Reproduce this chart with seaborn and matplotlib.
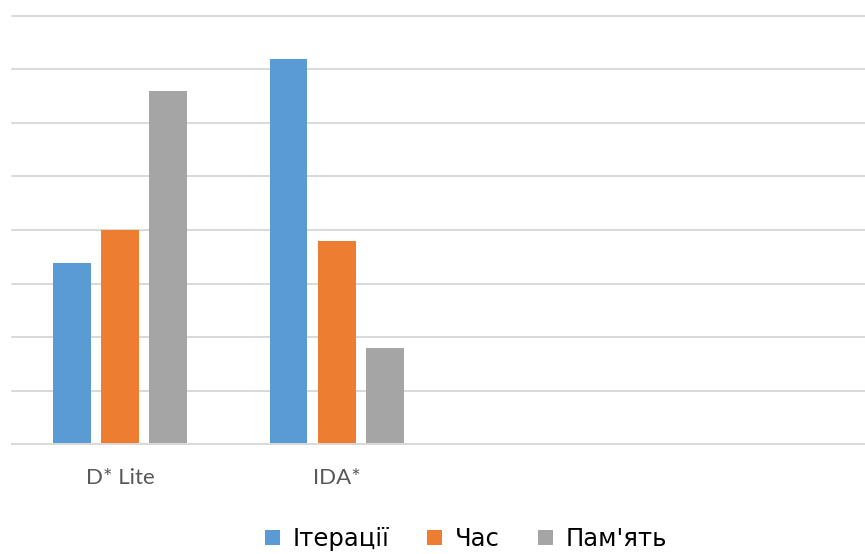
import matplotlib
matplotlib.use("Agg")
import matplotlib.pyplot as plt
import seaborn as sns
import pandas as pd
from matplotlib.lines import Line2D

categories = ["D* Lite", "IDA*"]
series = ["Ітерації", "Час", "Пам'ять"]
iterations = [3.38, 7.2]
time_vals = [4.0, 3.8]
memory = [6.6, 1.8]
colors = ["#5B9BD5", "#ED7D31", "#A5A5A5"]

rows = []
for s, vals in zip(series, [iterations, time_vals, memory]):
    for c, v in zip(categories, vals):
        rows.append({"cat": c, "series": s, "value": v})
df = pd.DataFrame(rows)

sns.set_theme(style="white")
plt.rcParams["font.family"] = ["DejaVu Sans"]

W, H = 865, 554
fig = plt.figure(figsize=(W / 100, H / 100), dpi=100)
left_px, base_px, top_px = 11.7, 444.3, 15.7
ax = fig.add_axes([left_px / W, (H - base_px) / H, 1 - left_px / W, (base_px - top_px) / H])

sns.barplot(data=df, x="cat", y="value", hue="series", palette=colors,
            order=categories, hue_order=series, width=0.667, gap=0.22,
            saturation=1, linewidth=0, legend=False, ax=ax)

cat_px = 216.7
ax.set_xlim(-0.5, -0.5 + (W - left_px) / cat_px)
ax.set_ylim(0, 8)
ax.set_yticks(range(0, 9))
ax.set_yticklabels([])
ax.yaxis.grid(True, color="#D9D9D9", linewidth=1.4)
ax.set_axisbelow(True)
for gl in ax.get_ygridlines():
    gl.set_clip_on(False)
for sp in ["left", "right", "top"]:
    ax.spines[sp].set_visible(False)
ax.spines["bottom"].set_color("#D9D9D9")
ax.spines["bottom"].set_linewidth(1.4)
ax.tick_params(axis="both", length=0)
ax.set_xticks(range(len(categories)))
ax.set_xticklabels(categories, fontfamily="Lato", fontsize=16, color="#595959")
ax.tick_params(axis="x", pad=17)
ax.set_xlabel("")
ax.set_ylabel("")

handles = [Line2D([], [], marker="s", linestyle="none", markersize=10.8,
                  markerfacecolor=c, markeredgewidth=0) for c in colors]
fig.legend(handles, series, loc="center", bbox_to_anchor=(465 / W, 1 - 539 / H),
           ncol=3, frameon=False, fontsize=17.5, handlelength=0.7,
           handletextpad=0.5, columnspacing=1.5, labelcolor="#000000")

fig.savefig("out.png", dpi=100)
